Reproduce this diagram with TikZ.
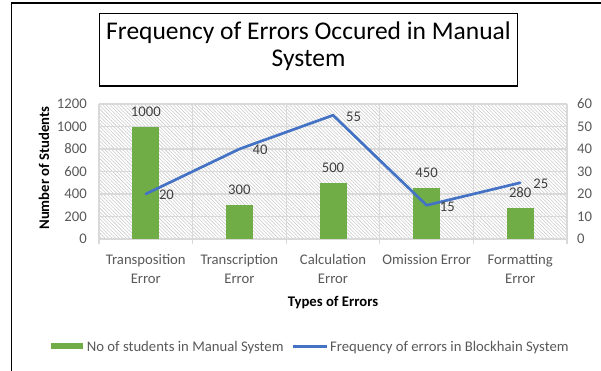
\documentclass[tikz,border=0pt]{standalone}
\usepackage{fontspec}
\setmainfont{Carlito}
\usetikzlibrary{patterns.meta}
\definecolor{bargreen}{HTML}{70AD47}
\definecolor{lineblue}{HTML}{4472C4}
\definecolor{tickgray}{HTML}{595959}
\definecolor{gridgray}{HTML}{D9D9D9}
\definecolor{labgray}{HTML}{404040}
\definecolor{hatchgray}{HTML}{C8C8C8}
\tikzset{
  chartfont/.style={font=\fontsize{14.7}{18.7}\selectfont},
  ticklab/.style={chartfont, text=tickgray, inner sep=0pt},
  datalab/.style={chartfont, text=labgray, inner sep=0pt},
  axtitle/.style={font=\fontsize{14.7}{18.7}\selectfont\bfseries, text=black, inner sep=0pt},
  gridline/.style={draw=gridgray, line width=1.1pt},
  barfill/.style={fill=bargreen},
  seriesline/.style={draw=lineblue, line width=2.7pt, line join=round, line cap=round},
}
\begin{document}
\begin{tikzpicture}[x=1pt,y=-1pt]
\useasboundingbox (0,0) rectangle (601,370);
% outer frame (cropped at right and bottom)
\draw[line width=1.6pt] (11.5,371) -- (11.5,3) -- (602,3);
% title box
\node[draw, line width=1.1pt, minimum width=417.7pt, minimum height=72.7pt, inner sep=0pt] (titlebox) at (308.2,49.65) {};
\node[font=\fontsize{25.5}{27}\selectfont, align=center, inner sep=0pt, anchor=base] (title) at (308.5,66) {Frequency of Errors Occured in Manual\\System};
% plot area hatch
\fill[pattern={Lines[angle=-45,distance=2.5pt,line width=0.55pt]}, pattern color=hatchgray] (99,104) rectangle (567,239);
% horizontal grid
\foreach \k in {0,...,6} {
  \pgfmathsetmacro{\yy}{239-22.5*\k}
  \draw[gridline] (99,\yy) -- (567,\yy);
  \pgfmathtruncatemacro{\lv}{200*\k}
  \pgfmathtruncatemacro{\rv}{10*\k}
  \node[ticklab, anchor=east] (yl\k) at (87,\yy) {\lv};
  \node[ticklab, anchor=west] (yr\k) at (577,\yy) {\rv};
}
% vertical grid with ticks
\foreach \k in {0,...,5} {
  \pgfmathsetmacro{\xx}{99+93.6*\k}
  \draw[gridline] (\xx,104) -- (\xx,244);
}
% bars and labels
\foreach \i/\v/\f in {1/1000/20,2/300/40,3/500/55,4/450/15,5/280/25} {
  \pgfmathsetmacro{\cx}{145.8+93.6*(\i-1)}
  \pgfmathsetmacro{\top}{239-0.1125*\v}
  \pgfmathsetmacro{\py}{239-2.25*\f}
  \fill[barfill] (\cx-13.5,239) rectangle (\cx+13.5,\top);
  \node[datalab, anchor=base] (bl\i) at (\cx,\top-10.5) {\v};
  \coordinate (p\i) at (\cx,\py);
}
% line series
\draw[seriesline] (p1) -- (p2) -- (p3) -- (p4) -- (p5);
\foreach \i/\f in {1/20,2/40,3/55,4/15,5/25} {
  \node[datalab, anchor=west] (ll\i) at ([xshift=13pt,yshift=-1.2pt]p\i) {\f};
}
% category labels
\node[ticklab, align=center, anchor=north] (c1) at (145.8,254.5) {Transposition\\Error};
\node[ticklab, align=center, anchor=north] (c2) at (239.4,254.5) {Transcription\\Error};
\node[ticklab, align=center, anchor=north] (c3) at (333.0,254.5) {Calculation\\Error};
\node[ticklab, align=center, anchor=north] (c4) at (426.6,254.5) {Omission Error};
\node[ticklab, align=center, anchor=north] (c5) at (520.2,254.5) {Formatting\\Error};
% axis titles
\node[axtitle, anchor=base] (xt) at (333,306.7) {Types of Errors};
\node[axtitle, rotate=90] (yt) at (44,168) {Number of Students};
% legend
\node[inner sep=0pt, minimum width=31.5pt, minimum height=6pt, barfill, anchor=west] (lg1) at (51,346.3) {};
\node[ticklab, anchor=base west] (lt1) at (86.7,351) {No of students in Manual System};
\coordinate (lg2a) at (293,346.7);
\coordinate (lg2b) at (327,346.7);
\draw[draw=lineblue, line width=2.7pt] (lg2a) -- (lg2b);
\node[ticklab, anchor=base west] (lt2) at (330,351) {Frequency of errors in Blockhain System};
\end{tikzpicture}
\end{document}
